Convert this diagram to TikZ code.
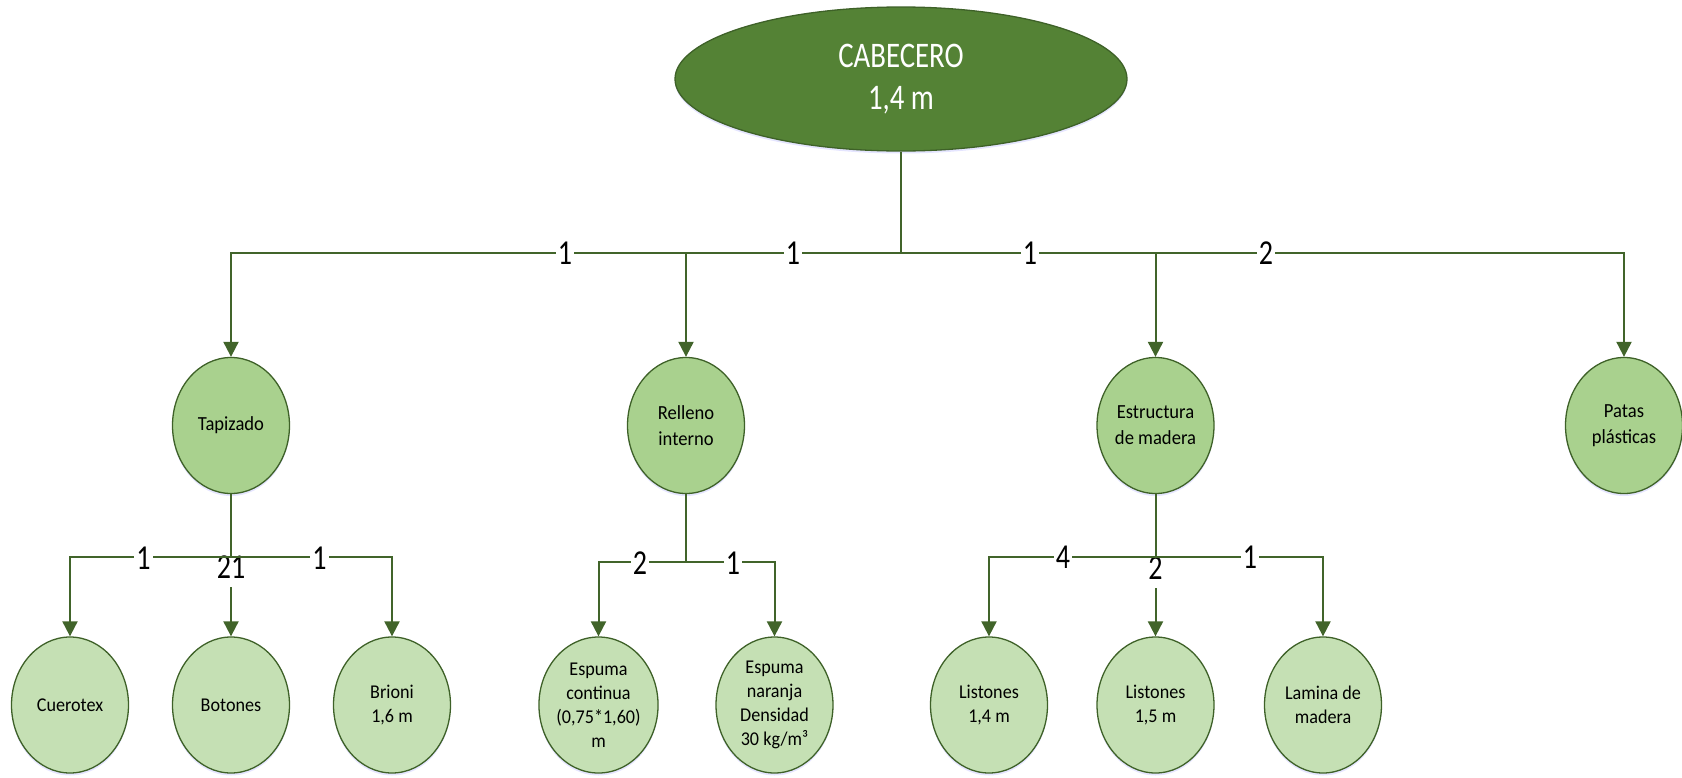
\documentclass[tikz,border=0pt]{standalone}
\usepackage{fontspec}
\setmainfont{Carlito}[FakeStretch=0.93]
\newfontfamily\narrowfont{Carlito}[FakeStretch=0.8]
\usetikzlibrary{shapes.geometric,arrows.meta,shadows}
\definecolor{rootgreen}{HTML}{548235}
\definecolor{midgreen}{HTML}{A9D18E}
\definecolor{leafgreen}{HTML}{C5E0B4}
\definecolor{edgegreen}{HTML}{3E6128}
\definecolor{linegreen}{HTML}{41642A}

\begin{document}
\begin{tikzpicture}[x=1pt,y=-1pt,
  bubble/.style={ellipse, draw=edgegreen, line width=1.3pt, inner sep=0pt,
    align=center, minimum width=117pt, minimum height=136pt,
    drop shadow={shadow xshift=0pt, shadow yshift=-2.5pt, fill=blue!25!white, opacity=.4}},
  rootbubble/.style={bubble, fill=rootgreen, text=white, minimum width=452pt,
    minimum height=144pt, font=\narrowfont\fontsize{36}{42}\selectfont},
  partbubble/.style={bubble, fill=midgreen, font=\fontsize{20}{26}\selectfont},
  leafbubble/.style={bubble, fill=leafgreen, font=\fontsize{19.5}{24}\selectfont},
  link/.style={draw=linegreen, line width=2pt},
  arrowlink/.style={link, -{Triangle[width=15pt,length=15pt]}},
  qty/.style={fill=white, inner sep=2pt, text=black,
    font=\narrowfont\fontsize{35}{35}\selectfont},
  midqty/.style={qty, anchor=base, text height=20pt, text depth=7pt}
]
\useasboundingbox (0,0) rectangle (1682,777);

% root and first level
\node[rootbubble] (root) at (901,79) {CABECERO\\1,4 m};
\node[partbubble] (tap) at (231,425.5) {Tapizado};
\node[partbubble] (rel) at (686,425.5) {Relleno\\interno};
\node[partbubble] (est) at (1155.5,425.5) {Estructura\\de madera};
\node[partbubble] (pat) at (1624,425.5) {Patas\\plásticas};

% second level
\node[leafbubble] (cue) at (70,705) {Cuerotex};
\node[leafbubble] (bot) at (231,705) {Botones};
\node[leafbubble] (bri) at (392,705) {Brioni\\1,6 m};
\node[leafbubble] (esc) at (598.5,705) {Espuma\\continua\\(0,75*1,60)\\m};
\node[leafbubble] (esn) at (774.5,705) {Espuma\\naranja\\Densidad\\30 kg/m³};
\node[leafbubble] (li1) at (989,705) {Listones\\1,4 m};
\node[leafbubble] (li2) at (1155.5,705) {Listones\\1,5 m};
\node[leafbubble] (lam) at (1323,705) {Lamina de\\madera};

% bus junctions
\coordinate (b0) at (901,253);
\coordinate (bt) at (231,557);
\coordinate (br) at (686,562);
\coordinate (be) at (1155.5,557);

% straight drops through the middle quantity labels
\draw[arrowlink] (tap) -- (bot);
\draw[arrowlink] (est) -- (li2);
\node[midqty] (q21) at (231,578) {21};
\node[midqty] (q2e) at (1155.5,579) {2};

% first-level bus
\draw[arrowlink] (root) -- (b0) -| (tap);
\draw[arrowlink] (b0) -| (rel);
\draw[arrowlink] (b0) -| (est);
\draw[arrowlink] (b0) -| (pat);

% second-level buses
\draw[link] (tap) -- (bt);
\draw[arrowlink] (bt) -| (cue);
\draw[arrowlink] (bt) -| (bri);
\draw[link] (rel) -- (br);
\draw[arrowlink] (br) -| (esc);
\draw[arrowlink] (br) -| (esn);
\draw[link] (est) -- (be);
\draw[arrowlink] (be) -| (li1);
\draw[arrowlink] (be) -| (lam);

% quantities on the buses
\node[qty] (q1) at (565,253) {1};
\node[qty] (q2) at (793,253) {1};
\node[qty] (q3) at (1030,253) {1};
\node[qty] (q4) at (1266,253) {2};
\node[qty] (q5) at (143.5,558) {1};
\node[qty] (q6) at (319.5,558) {1};
\node[qty] (q7) at (640,563) {2};
\node[qty] (q8) at (733,563) {1};
\node[qty] (q9) at (1063,557) {4};
\node[qty] (q10) at (1250,557) {1};
\end{tikzpicture}
\end{document}
